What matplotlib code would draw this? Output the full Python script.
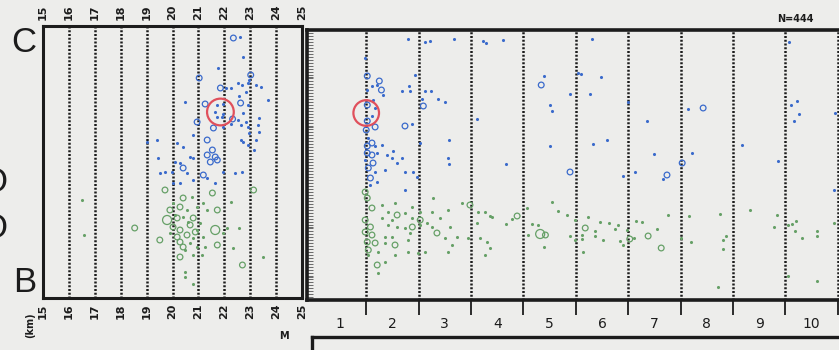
import matplotlib
matplotlib.use("Agg")
import matplotlib.pyplot as plt
import numpy as np
from matplotlib.ticker import FixedLocator, MultipleLocator

# left panel: horizontal distance (km) vs depth, right panel: time bin vs depth
# mag: 1 = small dot, 2 = medium open circle, 3 = large open circle
LB_X = [22.35, 22.59, 22.74, 21.77, 23.02, 22.94, 22.90, 21.03, 22.51, 22.70, 23.21, 23.40, 21.85,
        22.08, 22.24, 22.82, 22.55, 23.68, 20.49, 21.26, 21.73, 21.96, 22.63, 22.90, 21.65, 21.96,
        22.74, 21.73, 21.93, 23.33, 22.32, 22.51, 22.82, 20.95, 21.58, 21.96, 22.24, 22.63, 22.90,
        23.29, 22.94, 23.33, 20.80, 21.34, 19.40, 22.63, 23.21, 20.18, 20.41, 21.54, 21.34, 21.65,
        21.73, 21.46, 20.68, 20.80, 20.29, 20.41, 20.10, 19.98, 19.71, 19.51, 20.56, 21.19, 21.34,
        21.96, 22.43, 22.70, 20.80, 21.65, 22.90, 23.13, 22.74, 20.02, 20.29, 19.44, 19.01]
LB_DEPTH = [1.1, 1.0, 3.0, 4.1, 4.8, 5.3, 5.6, 5.1, 5.6, 5.8, 5.8, 6.0, 6.1,
            6.1, 6.1, 6.5, 6.9, 7.3, 7.5, 7.7, 7.8, 7.7, 7.6, 7.8, 8.5, 8.7,
            8.6, 9.0, 9.0, 9.1, 9.2, 9.3, 9.5, 9.5, 10.1, 10.0, 9.7, 9.8, 10.0,
            9.8, 10.6, 10.5, 10.8, 11.3, 11.3, 11.3, 11.3, 11.6, 12.0, 12.3, 12.8, 13.0,
            13.3, 13.5, 13.0, 13.1, 13.6, 14.1, 13.5, 14.5, 14.5, 14.6, 14.6, 14.8, 15.1,
            14.5, 14.6, 14.5, 15.3, 15.6, 11.8, 12.3, 11.5, 15.6, 15.6, 13.1, 11.5]
LB_MAG = [2, 1, 1, 1, 2, 1, 1, 2, 1, 1, 1, 1, 2,
          1, 1, 1, 1, 1, 1, 2, 1, 1, 2, 1, 1, 1,
          1, 1, 1, 1, 2, 1, 1, 2, 2, 1, 1, 1, 1,
          1, 1, 1, 1, 2, 1, 1, 1, 1, 1, 2, 2, 2,
          2, 2, 1, 1, 1, 2, 1, 1, 1, 1, 1, 2, 1,
          1, 1, 1, 1, 1, 1, 1, 1, 1, 1, 1, 1]

LG_X = [19.71, 21.54, 23.13, 20.41, 20.76, 20.02, 21.19, 22.24, 19.90, 20.29, 20.56, 20.95, 21.34,
        21.73, 19.79, 20.18, 20.41, 20.80, 21.07, 20.02, 20.68, 20.29, 20.95, 21.65, 22.12, 22.55,
        20.56, 20.18, 20.80, 21.19, 21.96, 19.51, 20.29, 20.68, 20.41, 20.95, 21.73, 21.26, 20.29,
        20.80, 21.15, 22.32, 22.70, 23.48, 20.49, 20.49, 20.80, 16.52, 16.60, 18.54, 20.10, 20.60,
        20.88, 20.49, 19.90]
LG_DEPTH = [16.3, 16.6, 16.3, 17.1, 17.0, 17.6, 17.6, 17.5, 18.3, 18.0, 18.3, 18.0, 18.3,
            18.3, 19.3, 19.1, 19.0, 19.1, 19.6, 20.0, 19.8, 20.3, 20.3, 20.3, 20.1, 20.1,
            20.8, 21.0, 21.1, 21.0, 20.6, 21.3, 21.5, 21.6, 22.0, 22.0, 21.8, 22.0, 23.0,
            22.8, 22.8, 22.1, 23.8, 23.0, 24.5, 25.0, 25.7, 17.3, 20.8, 20.1, 18.8, 19.5,
            20.5, 22.3, 20.6]
LG_MAG = [2, 2, 2, 2, 1, 1, 1, 1, 2, 2, 1, 1, 1,
          2, 3, 2, 1, 2, 1, 2, 2, 2, 1, 3, 1, 1,
          2, 2, 1, 1, 1, 2, 2, 1, 2, 1, 2, 1, 2,
          1, 1, 1, 2, 1, 1, 1, 1, 1, 1, 2, 1, 1,
          2, 1, 1]

RB_X = [2.30, 2.62, 2.72, 3.18, 3.73, 3.79, 1.48, 1.52, 1.75, 1.61, 1.79, 1.71, 1.82, 1.52,
        2.44, 2.32, 2.19, 2.34, 2.62, 2.74, 2.57, 2.87, 3.01, 2.59, 1.52, 1.63, 1.67, 1.61,
        1.52, 1.50, 1.67, 2.24, 2.38, 3.62, 3.08, 2.53, 1.54, 1.61, 1.52, 1.67, 1.81, 1.52,
        1.61, 1.71, 1.90, 2.02, 2.00, 2.19, 1.48, 1.63, 2.09, 3.06, 3.08, 1.54, 1.67, 1.58,
        1.71, 1.86, 2.24, 2.40, 2.47, 2.24, 1.58, 4.11, 5.81, 4.90, 4.84, 5.55, 5.60, 5.98,
        5.39, 5.77, 5.01, 5.05, 5.01, 6.10, 5.83, 6.86, 6.99, 4.17, 5.39, 6.40, 6.63, 7.24,
        7.16, 6.50, 9.57, 7.64, 7.93, 7.53, 7.72, 8.68, 9.72, 9.75, 9.66, 9.60, 9.36, 10.45,
        10.42]
RB_DEPTH = [1.2, 1.5, 1.4, 1.2, 1.4, 1.6, 3.1, 4.9, 5.4, 5.9, 6.3, 5.8, 6.8, 6.3,
            4.8, 5.9, 6.4, 6.4, 6.4, 6.4, 7.2, 7.2, 7.5, 7.9, 7.8, 7.3, 8.1, 8.9,
            9.4, 10.3, 10.0, 9.9, 9.7, 9.2, 11.3, 11.6, 11.1, 11.6, 11.9, 11.9, 11.8, 12.6,
            12.8, 12.6, 12.8, 12.4, 13.1, 13.1, 13.3, 13.6, 13.6, 13.1, 13.7, 14.1, 14.5, 15.1,
            15.5, 14.3, 14.5, 14.5, 15.0, 16.3, 15.8, 1.3, 1.2, 4.9, 5.8, 4.6, 4.7, 5.0,
            6.7, 6.7, 7.8, 8.4, 11.9, 11.3, 11.7, 9.4, 12.7, 13.7, 14.5, 14.9, 14.5, 14.8,
            15.2, 7.5, 1.5, 8.2, 8.1, 13.6, 12.6, 11.8, 7.4, 8.7, 9.4, 7.8, 13.4, 8.6,
            16.3]
RB_MAG = [1, 1, 1, 1, 1, 1, 1, 2, 2, 1, 2, 1, 1, 1,
          1, 1, 1, 1, 1, 1, 1, 1, 1, 2, 2, 1, 1, 1,
          2, 2, 2, 2, 1, 1, 1, 1, 1, 2, 2, 1, 1, 2,
          2, 1, 1, 1, 1, 1, 1, 2, 1, 1, 1, 2, 1, 2,
          1, 1, 1, 1, 1, 1, 1, 1, 1, 1, 2, 1, 1, 1,
          1, 1, 1, 1, 1, 1, 1, 1, 1, 1, 2, 1, 1, 2,
          1, 1, 1, 1, 2, 2, 1, 1, 1, 1, 1, 1, 1, 1,
          1]

RG_X = [1.48, 1.52, 1.61, 1.81, 2.05, 2.38, 2.53, 2.76, 2.78, 1.92, 2.09, 2.24, 1.81, 2.00,
        2.38, 2.53, 2.66, 2.91, 3.06, 3.33, 3.48, 3.64, 3.77, 3.90, 1.48, 1.58, 1.92, 2.09,
        2.24, 2.38, 2.53, 2.76, 3.10, 3.62, 1.48, 1.61, 1.86, 2.00, 2.34, 2.85, 3.01, 3.24,
        3.45, 3.68, 3.81, 1.52, 1.67, 1.86, 2.05, 2.30, 3.14, 1.54, 1.73, 2.05, 2.30, 2.49,
        2.62, 3.06, 3.77, 1.54, 1.71, 1.86, 1.73, 3.87, 4.17, 4.29, 4.38, 4.57, 4.59, 4.67,
        4.78, 4.82, 4.92, 4.90, 5.05, 5.16, 5.34, 5.39, 5.49, 5.49, 5.68, 5.62, 5.62, 5.64,
        5.74, 5.87, 5.87, 5.96, 6.02, 6.14, 6.25, 6.31, 6.35, 6.40, 6.48, 6.53, 6.61, 6.65,
        6.76, 6.88, 7.05, 7.13, 7.26, 3.87, 7.66, 8.25, 7.51, 7.70, 8.31, 8.37, 8.31, 8.21,
        8.83, 9.34, 9.29, 9.55, 9.62, 9.70, 9.68, 9.81, 10.10, 10.10, 10.11, 9.55, 10.42]
RG_DEPTH = [16.5, 17.1, 18.1, 17.8, 17.6, 18.0, 18.5, 18.5, 17.1, 18.5, 18.8, 18.6, 19.1, 19.3,
            19.1, 19.3, 19.6, 19.1, 18.3, 17.6, 17.8, 18.5, 18.5, 19.0, 19.3, 20.0, 19.8, 20.0,
            20.1, 20.0, 19.8, 20.0, 20.0, 19.6, 20.5, 20.8, 21.0, 21.0, 20.6, 20.6, 21.1, 21.0,
            21.1, 21.1, 21.5, 21.5, 21.6, 21.6, 21.8, 21.3, 21.8, 22.3, 22.5, 22.8, 22.5, 22.6,
            22.5, 22.5, 22.8, 22.8, 23.8, 23.5, 24.6, 18.9, 19.7, 19.2, 18.9, 18.1, 20.8, 19.7,
            19.8, 20.7, 20.8, 22.0, 17.5, 18.4, 18.8, 20.9, 19.3, 21.3, 20.1, 20.8, 21.2, 22.5,
            19.0, 20.4, 20.9, 19.5, 21.3, 19.6, 20.2, 19.8, 21.4, 21.8, 20.3, 21.2, 21.1, 19.4,
            19.5, 20.9, 20.2, 22.1, 18.8, 22.1, 18.9, 18.7, 21.1, 21.5, 21.3, 20.9, 22.2, 26.0,
            18.3, 18.8, 20.0, 19.8, 19.7, 19.4, 20.4, 21.1, 20.4, 20.9, 25.4, 24.9, 19.6]
RG_MAG = [2, 2, 2, 1, 1, 1, 1, 1, 1, 1, 2, 1, 1, 1,
          1, 2, 1, 1, 1, 1, 2, 1, 1, 1, 2, 2, 1, 1,
          1, 2, 1, 1, 1, 1, 2, 2, 1, 1, 1, 2, 1, 1,
          1, 1, 1, 2, 2, 1, 2, 1, 1, 2, 1, 1, 1, 1,
          1, 1, 1, 1, 2, 1, 1, 1, 1, 1, 2, 1, 1, 1,
          1, 3, 2, 1, 1, 1, 1, 1, 1, 1, 2, 1, 1, 1,
          1, 1, 1, 1, 1, 1, 1, 1, 1, 1, 1, 2, 1, 1,
          1, 2, 1, 2, 1, 1, 1, 1, 1, 1, 1, 1, 1, 1,
          1, 1, 1, 1, 1, 1, 1, 1, 1, 1, 1, 1, 1]

KM_TICKS = list(range(15, 26))
KM_GRID = list(range(16, 25))
BIN_LABELS = list(range(1, 11))
BIN_EDGES = [b + 0.5 for b in BIN_LABELS]
HILITE_LEFT = (21.85, 8.5)
HILITE_RIGHT = (1.50, 8.6)
N_EVENTS = 444

BG = "#ededeb"
BLUE = "#3a6acb"
GREEN = "#66a067"
RED = "#e0505c"
INK = "#1c1c1c"
FONT = ["DejaVu Sans"]

W, H = 839, 350


def frac(px_left, px_top, px_right, px_bottom):
    return [px_left / W, 1 - px_bottom / H, (px_right - px_left) / W, (px_bottom - px_top) / H]


def draw_events(ax, xs, depths, mags, color):
    xs, depths, mags = np.asarray(xs), np.asarray(depths), np.asarray(mags)
    small = mags == 1
    ax.scatter(xs[small], depths[small], s=5, color=color, linewidths=0, zorder=3)
    for mag, size in [(2, 17), (3, 42)]:
        sel = mags == mag
        ax.scatter(xs[sel], depths[sel], s=size, facecolors="none", edgecolors=color,
                   linewidths=0.9, zorder=3)


def dotted(ax, positions):
    for p in positions:
        ax.axvline(p, color=INK, linestyle=(0, (0.8, 0.7)), linewidth=1.8, zorder=1)


fig = plt.figure(figsize=(W / 100, H / 100), dpi=100)
fig.patch.set_facecolor(BG)

# left panel
axl = fig.add_axes(frac(43, 26, 302, 298))
axl.set_facecolor(BG)
axl.set_xlim(15, 25)
axl.set_ylim(27.1, -0.1)
dotted(axl, KM_GRID)
draw_events(axl, LB_X, LB_DEPTH, LB_MAG, BLUE)
draw_events(axl, LG_X, LG_DEPTH, LG_MAG, GREEN)
axl.scatter([HILITE_LEFT[0]], [HILITE_LEFT[1]], s=370, facecolors="none", edgecolors=RED,
            linewidths=1.6, zorder=4)
axl.set_xticks(KM_TICKS)
axl.set_xticklabels([str(t) for t in KM_TICKS], rotation=90, fontsize=8, fontweight="bold",
                    family=FONT, color=INK)
axl.tick_params(axis="x", which="both", top=True, labeltop=True, bottom=True, labelbottom=True,
                length=0, pad=4)
axl.set_yticks([])
for sp in axl.spines.values():
    sp.set_linewidth(2.2)
    sp.set_color(INK)

# right panel
axr = fig.add_axes(frac(307, 30, 864, 300))
axr.set_facecolor(BG)
axr.set_xlim(0.37, 11.0)
axr.set_ylim(27.3, 0.3)
dotted(axr, BIN_EDGES)
draw_events(axr, RB_X, RB_DEPTH, RB_MAG, BLUE)
draw_events(axr, RG_X, RG_DEPTH, RG_MAG, GREEN)
axr.scatter([HILITE_RIGHT[0]], [HILITE_RIGHT[1]], s=340, facecolors="none", edgecolors=RED,
            linewidths=1.6, zorder=4)
axr.set_xticks(BIN_LABELS)
axr.set_xticklabels([str(b) for b in BIN_LABELS], fontsize=10, family=FONT, color=INK)
axr.xaxis.set_minor_locator(FixedLocator(BIN_EDGES))
axr.tick_params(axis="x", which="major", length=0, pad=12)
axr.tick_params(axis="x", which="minor", length=11, width=1.3, color=INK, direction="out")
axr.yaxis.set_major_locator(MultipleLocator(5))
axr.yaxis.set_minor_locator(MultipleLocator(0.3))
axr.tick_params(axis="y", which="both", left=True, labelleft=False, direction="in",
                length=4, width=0.6, color="#555555")
for sp in axr.spines.values():
    sp.set_linewidth(2.6)
    sp.set_color(INK)
axr.spines["right"].set_visible(False)
fig.text(795 / W, 1 - 19 / H, f"N={N_EVENTS}", fontsize=7, fontweight="bold", family=FONT,
         color=INK, ha="center", va="center")

# partial lower panel
axb = fig.add_axes(frac(312, 337, 900, 380))
axb.set_facecolor(BG)
axb.set_xticks([])
axb.set_yticks([])
for side in ["right", "bottom"]:
    axb.spines[side].set_visible(False)
for side in ["top", "left"]:
    axb.spines[side].set_linewidth(2.4)
    axb.spines[side].set_color(INK)

# section letters and axis labels
fig.text(24 / W, 1 - 42 / H, "C", fontsize=25, family=["Liberation Sans"], color=INK,
         ha="center", va="center")
fig.text(25 / W, 1 - 283 / H, "B", fontsize=25, family=["Liberation Sans"], color=INK,
         ha="center", va="center")
fig.text(-6 / W, 1 - 182 / H, "O", fontsize=25, family=["Liberation Sans"], color=INK,
         ha="center", va="center")
fig.text(-6 / W, 1 - 228 / H, "O", fontsize=25, family=["Liberation Sans"], color=INK,
         ha="center", va="center")
fig.text(30 / W, 1 - 325 / H, "(km)", fontsize=7, fontweight="bold", family=FONT, color=INK,
         rotation=90, ha="center", va="center")
fig.text(284 / W, 1 - 336 / H, "M", fontsize=7, fontweight="bold", family=FONT, color=INK,
         ha="center", va="center")

fig.savefig("out.png", dpi=100, facecolor=BG)
